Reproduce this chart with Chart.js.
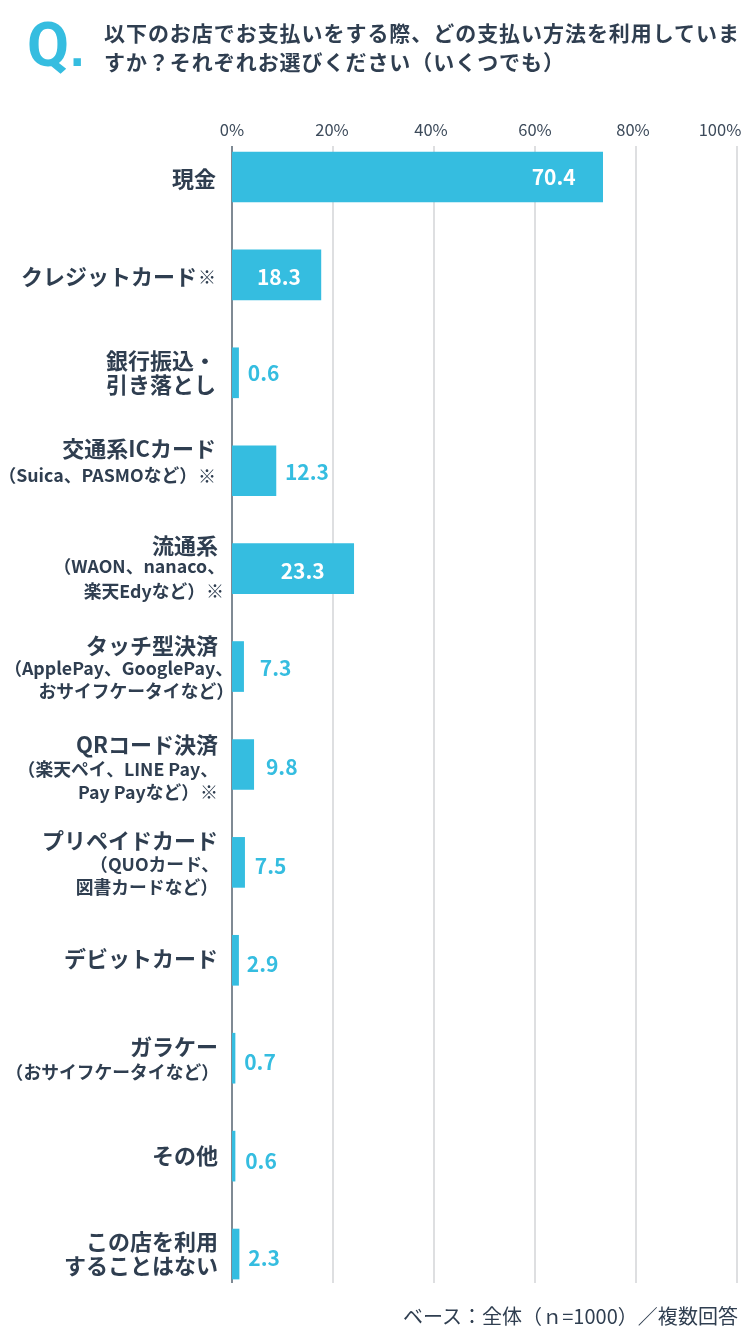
<!DOCTYPE html>
<html lang="ja">
<head>
<meta charset="utf-8">
<script src="https://cdn.jsdelivr.net/npm/chart.js@4"></script>
<style>
  html, body { margin: 0; padding: 0; background: #fff; }
  body { position: relative; width: 750px; height: 1340px; overflow: hidden; font-family: "Noto Sans CJK JP", sans-serif; }
  #wrap { position: absolute; left: 0; top: 0; width: 750px; height: 1340px; }
  #chart { display: block; }
  .q { position: absolute; left: 27px; top: 5px; font-family: Roboto, sans-serif; font-size: 61px; font-weight: 700; color: #35bde0; line-height: 80px; }
  .q span { font-family: "Liberation Sans", sans-serif; font-size: 52px; margin-left: 1px; }
  .title { position: absolute; left: 104px; top: 18px; width: 646px; font-size: 21px; font-weight: 700; line-height: 29px; letter-spacing: 0.95px; color: #2f3e50; white-space: nowrap; }
  .base { position: absolute; right: 12px; top: 1302px; font-size: 20px; font-weight: 400; line-height: 28px; letter-spacing: 0.03px; color: #2f3e50; white-space: nowrap; }
</style>
</head>
<body>
<div id="wrap"><canvas id="chart" width="750" height="1340"></canvas></div>
<div class="q">Q<span>.</span></div>
<div class="title">以下のお店でお支払いをする際、どの支払い方法を利用していま<br>すか？それぞれお選びください（いくつでも）</div>
<div class="base">ベース：全体（ｎ=1000）／複数回答</div>
<script>
// data
const categories = [
  ["現金"],
  ["クレジットカード※"],
  ["銀行振込・", "引き落とし"],
  ["交通系ICカード", "（Suica、PASMOなど）※"],
  ["流通系", "（WAON、nanaco、", "楽天Edyなど）※"],
  ["タッチ型決済", "（ApplePay、GooglePay、", "おサイフケータイなど）"],
  ["QRコード決済", "（楽天ペイ、LINE Pay、", "Pay Payなど）※"],
  ["プリペイドカード", "（QUOカード、", "図書カードなど）"],
  ["デビットカード"],
  ["ガラケー", "（おサイフケータイなど）"],
  ["その他"],
  ["この店を利用", "することはない"]
];
// bar lengths as drawn in the picture (they differ from the printed numbers)
const barLengths = [73.4, 17.6, 1.3, 8.7, 24.1, 2.3, 4.3, 2.5, 1.3, 0.6, 0.6, 1.4];
const printedValues = ["70.4", "18.3", "0.6", "12.3", "23.3", "7.3", "9.8", "7.5", "2.9", "0.7", "0.6", "2.3"];
const tickValues = [0, 20, 40, 60, 80, 100];
const tickLabels = ["0%", "20%", "40%", "60%", "80%", "100%"];

// styles
const TEAL = "#35bde0";
const INK = "#2f3e50";
const FONT = '"Noto Sans CJK JP", sans-serif';
const tickShift = [0, -1, -3, 0, -3, -17];
// per line: right edge, y relative to bar centre
const labelPlace = [
  [[216, 2]],
  [[216, 2]],
  [[216, -12], [216, 12]],
  [[216, -22], [216, 5]],
  [[218, -23], [225, -2], [224, 23]],
  [[218, -21], [233, 2], [234, 25]],
  [[218, -20], [218, 5], [218, 28]],
  [[218, -22], [219, 2], [218, 25]],
  [[218, -2]],
  [[218, -12], [219, 14]],
  [[218, 0]],
  [[218, -12], [218, 12]]
];
// value text: shift of the centre from the bar end, and y from the bar centre
const valuePlace = [[-49, 0], [-42, 2], [25, 0], [31, 1], [-51, 2], [32, 1], [28, 3], [26, 4], [24, 4], [25, 4], [26, 5], [25, 4]];
const whiteValues = [0, 1, 4];
// rows where every line is a main line
const allMainRows = [2, 11];

const drawExtras = {
  id: "drawExtras",
  beforeDatasetsDraw(chart) {
    const { ctx, scales: { x } } = chart;
    ctx.save();
    tickValues.forEach((v, i) => {
      const px = x.getPixelForValue(v);
      ctx.beginPath();
      ctx.lineWidth = 2;
      ctx.strokeStyle = i === 0 ? "#7f8a94" : "#dedfe1";
      ctx.moveTo(px, 146);
      ctx.lineTo(px, 1283);
      ctx.stroke();
    });
    ctx.fillStyle = "#3c4a5a";
    ctx.font = "400 16.5px " + FONT;
    ctx.textAlign = "center";
    ctx.textBaseline = "middle";
    tickValues.forEach((v, i) => {
      ctx.fillText(tickLabels[i], x.getPixelForValue(v) + tickShift[i], 130);
    });
    ctx.restore();
  },
  afterDatasetsDraw(chart) {
    const { ctx, scales: { x, y } } = chart;
    ctx.save();
    ctx.textBaseline = "middle";
    categories.forEach((lines, i) => {
      const cy = y.getPixelForValue(i);
      // category text, main line larger than the notes under it
      lines.forEach((line, n) => {
        const place = labelPlace[i][n];
        const size = n === 0 || allMainRows.includes(i) ? 22 : 17.8;
        let right = place[0];
        let text = line;
        ctx.textAlign = "right";
        ctx.fillStyle = INK;
        if (text.endsWith("※")) {
          ctx.font = "400 18px " + FONT;
          ctx.fillText("※", right, cy + place[1]);
          right -= 19;
          text = text.slice(0, -1);
        }
        ctx.font = "700 " + size + "px " + FONT;
        ctx.fillText(text, right, cy + place[1]);
      });
      // value text
      const end = x.getPixelForValue(barLengths[i]);
      ctx.font = "700 21px " + FONT;
      ctx.textAlign = "center";
      ctx.fillStyle = whiteValues.includes(i) ? "#fff" : TEAL;
      ctx.fillText(printedValues[i], end + valuePlace[i][0], cy + valuePlace[i][1]);
    });
    ctx.restore();
  }
};

new Chart(document.getElementById("chart"), {
  type: "bar",
  data: {
    labels: categories.map(c => c.join("")),
    datasets: [{ data: barLengths, backgroundColor: TEAL, barThickness: 50, borderWidth: 0 }]
  },
  options: {
    indexAxis: "y",
    responsive: false,
    animation: false,
    layout: { padding: { left: 232, right: 13, top: 128, bottom: 37 } },
    plugins: { legend: { display: false }, tooltip: { enabled: false } },
    scales: {
      x: { min: 0, max: 100, display: true, grid: { display: false, drawTicks: false }, border: { display: false }, ticks: { display: false } },
      y: { display: true, grid: { display: false, drawTicks: false }, border: { display: false }, ticks: { display: false } }
    }
  },
  plugins: [drawExtras]
});
</script>
</body>
</html>
